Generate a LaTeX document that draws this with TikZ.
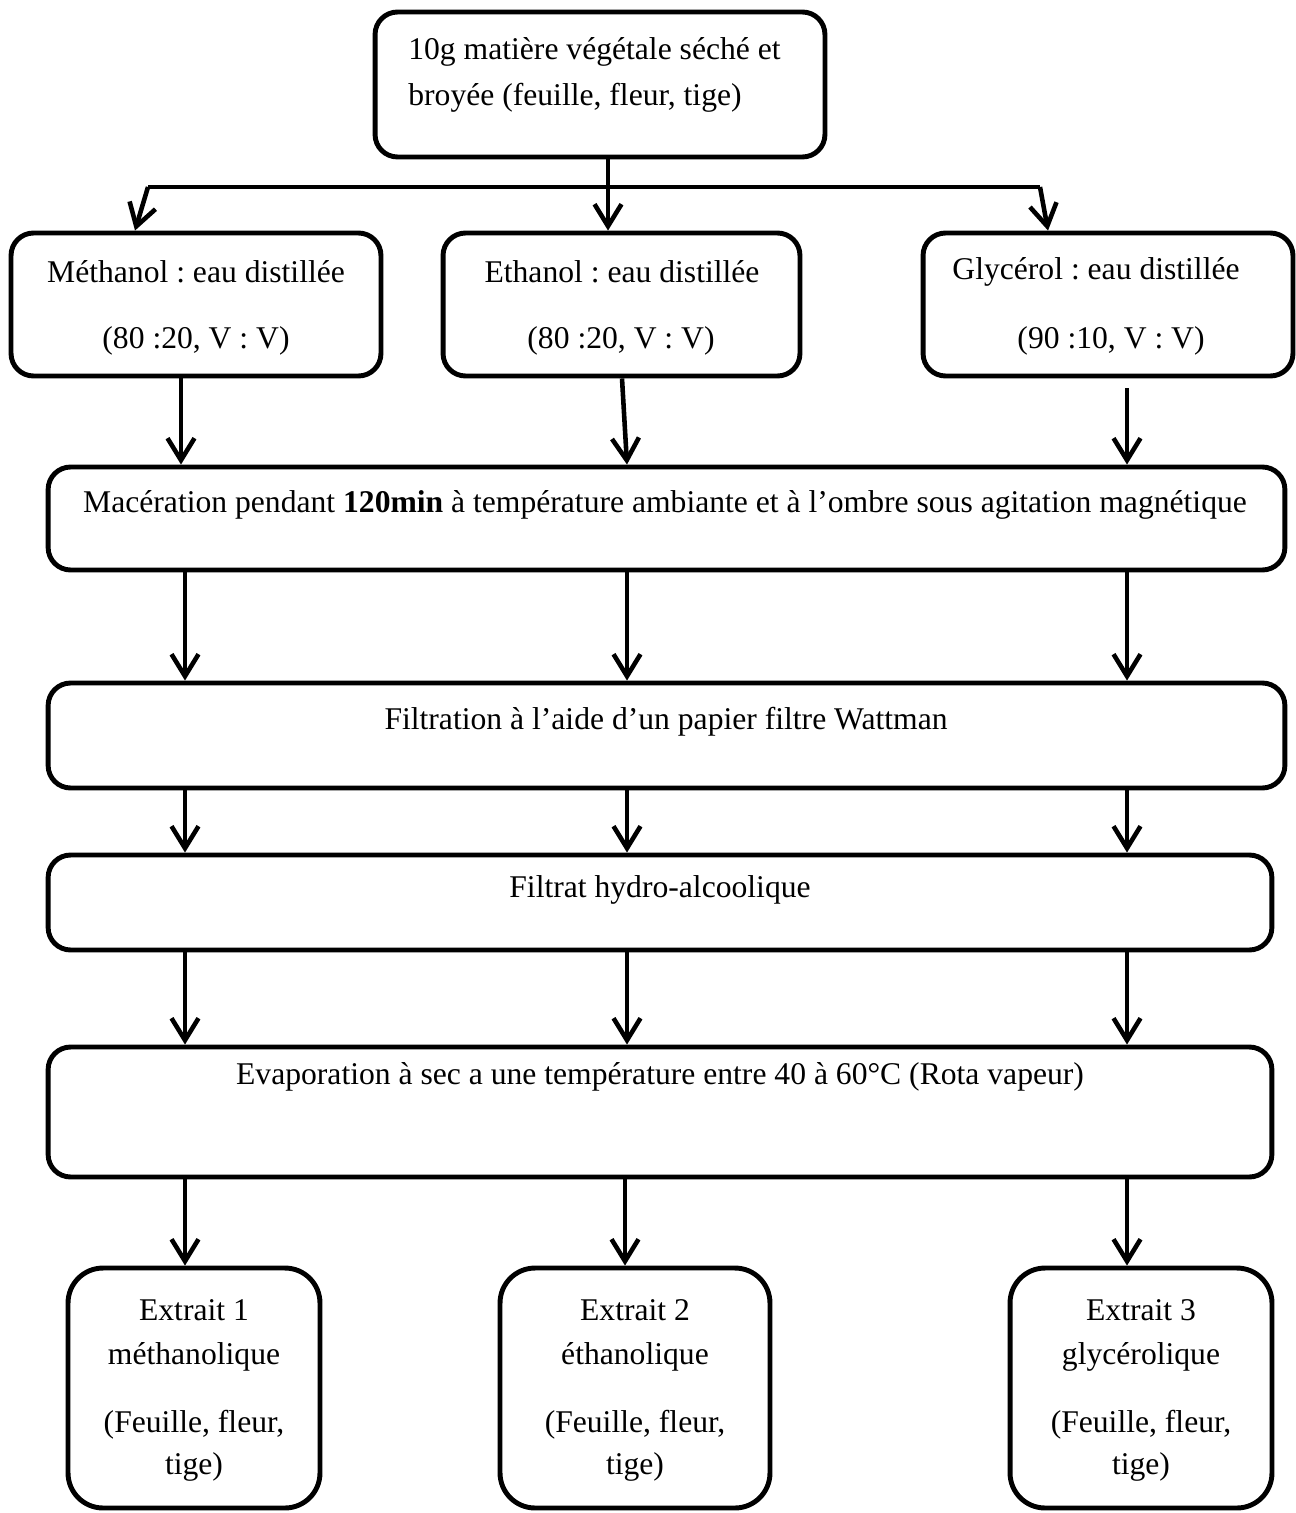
\documentclass[tikz,border=0pt]{standalone}
\usepackage{fontspec}
\setmainfont{Liberation Serif}
\usetikzlibrary{arrows.meta}
\frenchspacing
\begin{document}
\begin{tikzpicture}[x=0.02cm,y=-0.02cm,
  box/.style={draw, line width=2.8pt, rounded corners=0.45cm, inner sep=0pt},
  bigbox/.style={box, rounded corners=0.7cm},
  txt/.style={font=\fontsize{18}{22}\selectfont, inner sep=0pt},
  arr/.style={line width=2.6pt, -{Straight Barb[length=0.44cm,width=0.54cm]}},
  link/.style={line width=2.8pt}
]
\useasboundingbox (0,0) rectangle (1295,1513);

% --- boxes ---
\node[box, minimum width=9cm, minimum height=2.9cm] (top) at (600,84.5) {};
\node[box, minimum width=7.4cm, minimum height=2.86cm] (s1) at (196,304.5) {};
\node[box, minimum width=7.14cm, minimum height=2.86cm] (s2) at (621.5,304.5) {};
\node[box, minimum width=7.4cm, minimum height=2.86cm] (s3) at (1108,304.5) {};
\node[box, minimum width=24.74cm, minimum height=2.06cm] (mac) at (666.5,518.5) {};
\node[box, minimum width=24.74cm, minimum height=2.1cm] (filt) at (666.5,735.5) {};
\node[box, minimum width=24.48cm, minimum height=1.9cm] (fhy) at (660,902.5) {};
\node[box, minimum width=24.48cm, minimum height=2.6cm] (evap) at (660,1112) {};
\node[bigbox, minimum width=5.04cm, minimum height=4.8cm] (e1) at (194,1388) {};
\node[bigbox, minimum width=5.4cm, minimum height=4.8cm] (e2) at (635,1388) {};
\node[bigbox, minimum width=5.24cm, minimum height=4.8cm] (e3) at (1141,1388) {};

% --- texts ---
\node[txt, font=\fontsize{18}{26}\selectfont, align=left, anchor=west] (ttop) at (408,75)
  {10g matière végétale séché et\\broyée (feuille, fleur, tige)};
\node[txt] (ts1a) at (196,272) {Méthanol : eau distillée};
\node[txt] (ts1b) at (196,341) {(80 :20, V : V)};
\node[txt] (ts2a) at (622,272) {Ethanol : eau distillée};
\node[txt] (ts2b) at (621,341) {(80 :20, V : V)};
\node[txt] (ts3a) at (1096,272) {Glycérol : eau distillée};
\node[txt] (ts3b) at (1111,341) {(90 :10, V : V)};
\node[txt] (tmac) at (665,505)
  {Macération pendant \textbf{120min} à température ambiante et à l’ombre sous agitation magnétique};
\node[txt] (tfilt) at (666,722) {Filtration à l’aide d’un papier filtre Wattman};
\node[txt] (tfhy) at (660,890) {Filtrat hydro-alcoolique};
\node[txt] (tevap) at (660,1077) {Evaporation à sec a une température entre 40 à 60°C (Rota vapeur)};
\foreach \n/\x/\a/\b in {1/194/Extrait 1/méthanolique, 2/635/Extrait 2/éthanolique, 3/1141/Extrait 3/glycérolique}{
  \node[txt] (te\n a) at (\x,1310) {\a};
  \node[txt] (te\n b) at (\x,1357) {\b};
  \node[txt] (te\n c) at (\x,1425) {(Feuille, fleur,};
  \node[txt] (te\n d) at (\x,1467) {tige)};
}

% --- split of the starting material ---
\coordinate (bl) at (148,187);
\coordinate (br) at (1040,187);
\draw[link] (bl) -- (br);
\draw[arr] (608,0 |- top.south) -- (608,0 |- s2.north);
\draw[arr] (bl) -- (135,0 |- s1.north);
\draw[arr] (br) -- (1048,0 |- s3.north);

% --- solvents to maceration ---
\draw[arr] (181,0 |- s1.south) -- (181,0 |- mac.north);
\draw[arr] (622,0 |- s2.south) -- (627,0 |- mac.north);
\draw[arr, shorten <=0.2cm] (1127,0 |- s3.south) -- (1127,0 |- mac.north);

% --- process steps ---
\foreach \x in {185,627,1127}{
  \draw[arr] (\x,0 |- mac.south) -- (\x,0 |- filt.north);
  \draw[arr] (\x,0 |- filt.south) -- (\x,0 |- fhy.north);
  \draw[arr] (\x,0 |- fhy.south) -- (\x,0 |- evap.north);
}
\draw[arr] (185,0 |- evap.south) -- (185,0 |- e1.north);
\draw[arr] (625,0 |- evap.south) -- (625,0 |- e2.north);
\draw[arr] (1127,0 |- evap.south) -- (1127,0 |- e3.north);
\end{tikzpicture}
\end{document}
